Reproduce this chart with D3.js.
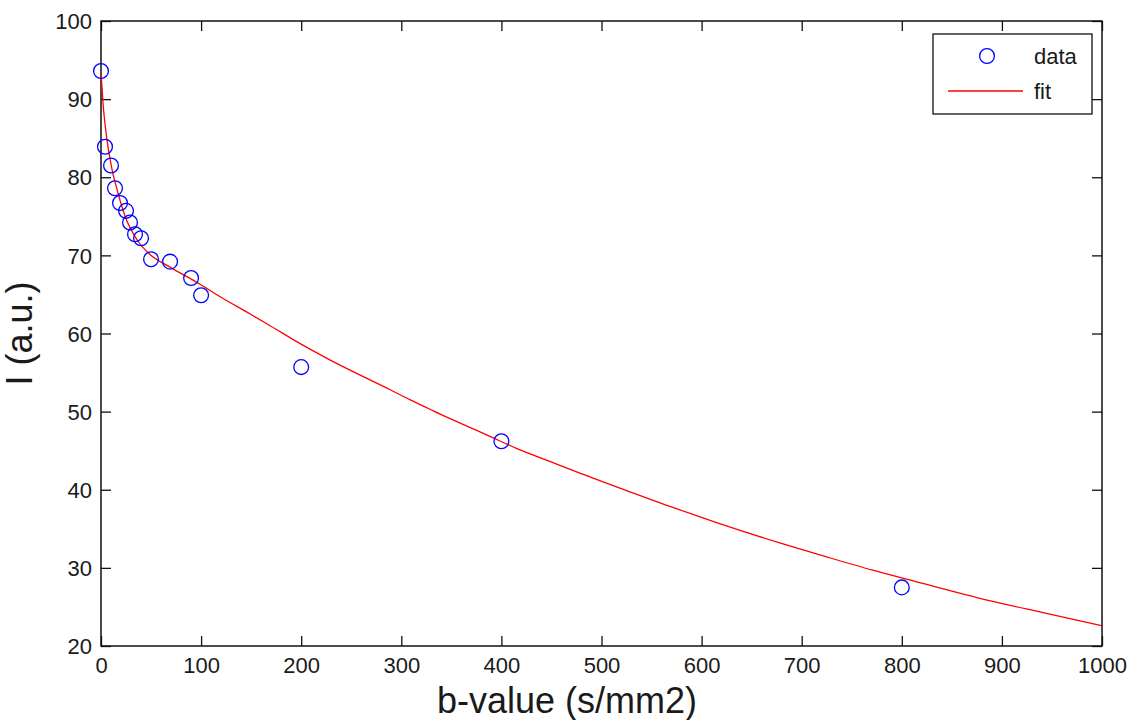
<!DOCTYPE html>
<html>
<head>
<meta charset="utf-8">
<script src="https://cdn.jsdelivr.net/npm/d3@7"></script>
<style>
  html, body { margin: 0; padding: 0; background: #ffffff; }
  svg { display: block; }
  text { font-family: "Liberation Sans", Arial, Helvetica, sans-serif; fill: #1a1a1a; }
</style>
</head>
<body>
<svg id="chart" width="1134" height="720"></svg>
<script>
// Measured signal vs. b-value
const bValues = [0, 4, 10, 14, 19, 25, 29, 34, 40, 50, 69, 90, 100, 200, 400, 800];
const signal  = [93.6, 83.9, 81.5, 78.6, 76.7, 75.7, 74.2, 72.7, 72.2, 69.5, 69.2, 67.1, 64.9, 55.7, 46.2, 27.5];

// Fitted decay curve, sampled along b
const fitB = [0, 1, 2, 4.5, 6.5, 9, 12, 14, 24, 36, 49, 69, 99, 119, 149, 169, 199, 229, 289, 309, 332, 389, 415, 449, 479, 525, 572, 615, 678, 725, 771, 815, 875, 940, 1000];
const fitI = [93.3, 91.5, 89.5, 86.3, 84.3, 82.4, 80.4, 79.4, 75.0, 72.0, 70.1, 68.5, 66.3, 64.7, 62.5, 61.0, 58.7, 56.6, 52.8, 51.5, 50.1, 46.8, 45.3, 43.6, 42.1, 39.9, 37.7, 35.8, 33.2, 31.4, 29.7, 28.2, 26.2, 24.3, 22.6];

const xTicks = [0, 100, 200, 300, 400, 500, 600, 700, 800, 900, 1000];
const yTicks = [20, 30, 40, 50, 60, 70, 80, 90, 100];

const xLabel = "b-value (s/mm2)";
const yLabel = "I (a.u.)";
const legendLabels = ["data", "fit"];

const svg = d3.select("#chart");
const plotL = 101, plotT = 21, plotR = 1102, plotB = 646;

const x = d3.scaleLinear().domain([0, 1000]).range([plotL, plotR]);
const y = d3.scaleLinear().domain([20, 100]).range([plotB, plotT]);

const tickLen = 10;
const fontSize = 22;
const labelSize = 36;
const fmt = d3.format("d");

// Axes with inward ticks on all four sides
const gx = svg.append("g").attr("transform", `translate(0,${plotB})`)
  .call(d3.axisBottom(x).tickValues(xTicks).tickFormat(fmt).tickSizeInner(-tickLen).tickSizeOuter(0).tickPadding(11));
const gxTop = svg.append("g").attr("transform", `translate(0,${plotT})`)
  .call(d3.axisTop(x).tickValues(xTicks).tickSizeInner(-tickLen).tickSizeOuter(0).tickFormat(""));
const gy = svg.append("g").attr("transform", `translate(${plotL},0)`)
  .call(d3.axisLeft(y).tickValues(yTicks).tickFormat(fmt).tickSizeInner(-tickLen).tickSizeOuter(0).tickPadding(9));
const gyRight = svg.append("g").attr("transform", `translate(${plotR},0)`)
  .call(d3.axisRight(y).tickValues(yTicks).tickSizeInner(-tickLen).tickSizeOuter(0).tickFormat(""));

[gx, gxTop, gy, gyRight].forEach(g => {
  g.select(".domain").remove();
  g.selectAll(".tick line").attr("stroke", "#111").attr("stroke-width", 1.3);
  g.selectAll(".tick text").style("font-size", fontSize + "px").attr("fill", "#1a1a1a");
});
gy.selectAll(".tick text").attr("dy", "0.35em");

// Axes box
svg.append("rect")
  .attr("x", plotL).attr("y", plotT)
  .attr("width", plotR - plotL).attr("height", plotB - plotT)
  .attr("fill", "none").attr("stroke", "#111").attr("stroke-width", 1.5);

// Fit curve
const fitData = fitB.map((b, i) => [b, fitI[i]]);
svg.append("path")
  .datum(fitData)
  .attr("fill", "none")
  .attr("stroke", "#ff0000")
  .attr("stroke-width", 1.3)
  .attr("d", d3.line().x(d => x(d[0])).y(d => y(d[1])).curve(d3.curveMonotoneX));

// Data markers
svg.append("g").selectAll("circle")
  .data(bValues.map((b, i) => [b, signal[i]]))
  .join("circle")
  .attr("cx", d => x(d[0]))
  .attr("cy", d => y(d[1]))
  .attr("r", 7.4)
  .attr("fill", "none")
  .attr("stroke", "#0000ff")
  .attr("stroke-width", 1.3);

// Axis labels
svg.append("text")
  .attr("x", 567).attr("y", 713)
  .attr("text-anchor", "middle")
  .style("font-size", labelSize + "px")
  .text(xLabel);

svg.append("text")
  .attr("transform", `translate(32,${(plotT + plotB) / 2}) rotate(-90)`)
  .attr("text-anchor", "middle")
  .style("font-size", labelSize + "px")
  .text(yLabel);

// Legend
const lg = svg.append("g");
lg.append("rect")
  .attr("x", 933).attr("y", 34).attr("width", 159).attr("height", 80)
  .attr("fill", "#ffffff").attr("stroke", "#111").attr("stroke-width", 1.3);
lg.append("circle")
  .attr("cx", 987).attr("cy", 56).attr("r", 7.4)
  .attr("fill", "none").attr("stroke", "#0000ff").attr("stroke-width", 1.3);
lg.append("line")
  .attr("x1", 948).attr("x2", 1023).attr("y1", 91).attr("y2", 91)
  .attr("stroke", "#ff0000").attr("stroke-width", 1.3);
lg.append("text").attr("x", 1034).attr("y", 64).style("font-size", fontSize + "px").text(legendLabels[0]);
lg.append("text").attr("x", 1034).attr("y", 99).style("font-size", fontSize + "px").text(legendLabels[1]);
</script>
</body>
</html>
